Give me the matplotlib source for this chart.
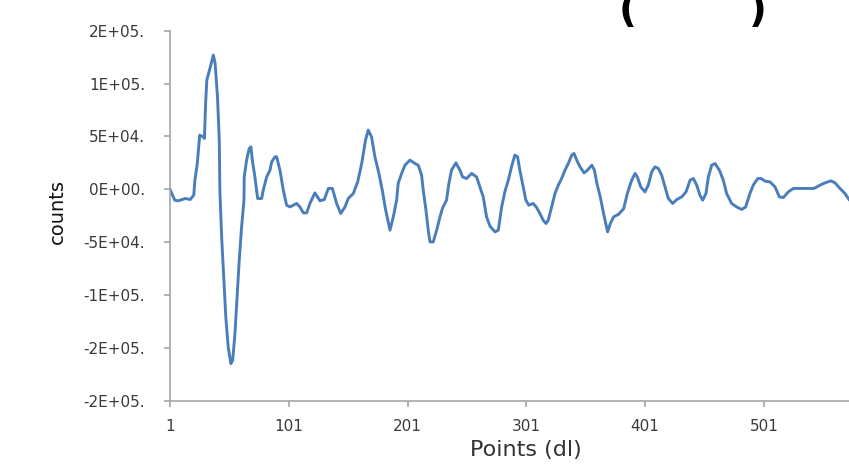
import numpy as np
from matplotlib import pyplot as plt

# points (point index, counts)
points = [1, 5, 8, 14, 18, 21, 22, 24, 26, 29, 30, 31, 32, 35, 37.5, 39, 41,
          42.5, 43, 44.5, 46.5, 48, 50, 52.3, 53.8, 55.7, 58, 59.3, 61.3, 63.3,
          63.5, 65.5, 67.7, 69.2, 70.3, 72.5, 74.8, 78.2, 79.5, 82.4, 85.2,
          86.6, 89.4, 90.8, 93.6, 96.4, 99.2, 102, 107.6, 110.4, 113.2, 116.1,
          118.8, 123, 127.3, 130.9, 134.3, 137.7, 141.3, 144.7, 148.3, 151.1,
          155.3, 159, 162.4, 165.6, 167.9, 170.7, 173.5, 176.9, 179.7, 182.6,
          186.2, 189, 191.8, 193.1, 196, 198.8, 203, 207.2, 210, 212.8, 214.2,
          216.5, 218.4, 219.9, 222.6, 225.5, 228.3, 230.5, 233.8, 235.8, 238,
          241.7, 245.1, 247.3, 250.7, 254.9, 259.1, 261.9, 264.7, 267.5, 270.4,
          274.6, 277.4, 280.2, 283, 285.7, 288.5, 291.3, 293.6, 295.5, 298.3,
          300.6, 303.1, 306.7, 309.6, 312.4, 315.2, 317.5, 319.4, 322.3, 325.1,
          327.9, 330.7, 333.5, 336.3, 339.2, 341.1, 343.4, 346.2, 349.6, 352.4,
          356.1, 358.3, 360.4, 363.2, 366, 369.4, 371.7, 374.5, 378.7, 382.9,
          386, 389.7, 392.5, 394.4, 397.3, 400.8, 403.6, 406.5, 409.3, 412.1,
          414.9, 417.7, 420.5, 424.2, 427.6, 431.8, 435.4, 438.8, 441.6, 444.4,
          447.1, 449.4, 452.2, 454.2, 457, 459.8, 463.5, 466.8, 469.6, 473.8,
          478, 482.3, 485.6, 489.2, 492, 495.8, 498.6, 501.9, 506.1, 510.3,
          514, 517.3, 521.5, 525.7, 532.7, 543.1, 548.2, 552.4, 557.4, 560.8,
          565, 569.2, 572.6, 576]
counts = [0, -10400, -11000, -8800, -9800, -5700, 8500, 24300, 51100, 49500,
          48000, 81100, 103200, 115800, 126900, 119000, 87400, 46400, -900,
          -45200, -89300, -120900, -149300, -165100, -161900, -136700, -92500,
          -67200, -35700, -10400, 11600, 27500, 38500, 40000, 27500, 11600,
          -8800, -8800, -900, 11600, 18000, 25800, 30600, 30600, 18000, -900,
          -15200, -16800, -13500, -16800, -22400, -22400, -13500, -3500, -11000,
          -9800, 700, 700, -13500, -23000, -16800, -8800, -4100, 6900, 24300,
          46400, 55900, 49500, 30600, 14900, -900, -19900, -38800, -26200,
          -10400, 5400, 14900, 22700, 27500, 24300, 22700, 13300, -900, -19900,
          -38800, -49900, -49900, -38800, -26200, -17700, -10400, 5400, 18000,
          24900, 18000, 11600, 10100, 14900, 11600, 2200, -7300, -26200, -35000,
          -40400, -38800, -16800, -2000, 8000, 21100, 32200, 30600, 18000, 2200,
          -10400, -15200, -13500, -17300, -23000, -29400, -32500, -29400,
          -16800, -4100, 3800, 10100, 18000, 24300, 32200, 33800, 27500, 21100,
          15400, 18000, 22700, 18000, 5400, -7300, -23000, -40400, -32500,
          -26200, -23700, -18500, -4100, 8500, 14900, 11600, 2200, -2600, 3800,
          16400, 21100, 19600, 13300, 2200, -8800, -13500, -9800, -7300, -2600,
          8500, 10100, 3800, -5700, -10400, -4100, 11600, 22700, 24300, 18000,
          8500, -4100, -13500, -16800, -19200, -16800, -4100, 3800, 10100,
          10100, 7600, 6900, 2200, -7300, -7900, -2600, 700, 700, 700, 3800,
          6000, 7900, 6000, 700, -4100, -9800, -14000]

y_ticks = np.arange(-200000, 150001, 50000)
x_ticks = [1, 101, 201, 301, 401, 501]

plt.rcParams['font.family'] = ['DejaVu Sans']

fig = plt.figure(figsize=(8.49, 4.65), dpi=100)
ax = fig.add_axes([0.2002, 0.1387, 0.7998, 0.7953])

ax.plot(points, counts, color='#4A7EBB', linewidth=2.1, solid_joinstyle='round')

ax.set_xlim(1, 572.6)
ax.set_ylim(-200000, 150000)

ax.set_yticks(y_ticks)
ax.set_yticklabels([format(v, '.0E') + '.' for v in y_ticks])
ax.set_xticks(x_ticks)
ax.set_xticklabels([str(v) for v in x_ticks])

for s in ['top', 'right']:
    ax.spines[s].set_visible(False)
for s in ['left', 'bottom']:
    ax.spines[s].set_color('#A6A6A6')
    ax.spines[s].set_linewidth(1.2)
ax.tick_params(axis='both', direction='out', length=4, width=1.2,
               color='#A6A6A6', labelsize=11, labelcolor='#3A3A3A')
ax.tick_params(axis='y', pad=14)
ax.tick_params(axis='x', pad=9)

ax.set_xlabel('Points (dl)', fontsize=16, color='#333333')
ax.xaxis.set_label_coords(0.524, -0.108)
ax.set_ylabel('counts', fontsize=14, color='#111111')
ax.yaxis.set_label_coords(-0.152, 0.51)

# title is cut off at the top of the picture, only the brackets show
fig.text(628 / 849, 1 - 22 / 465, '(', fontsize=28, fontweight='bold',
         ha='center', va='baseline')
fig.text(758 / 849, 1 - 22 / 465, ')', fontsize=28, fontweight='bold',
         ha='center', va='baseline')

fig.savefig('out.png', dpi=100)
